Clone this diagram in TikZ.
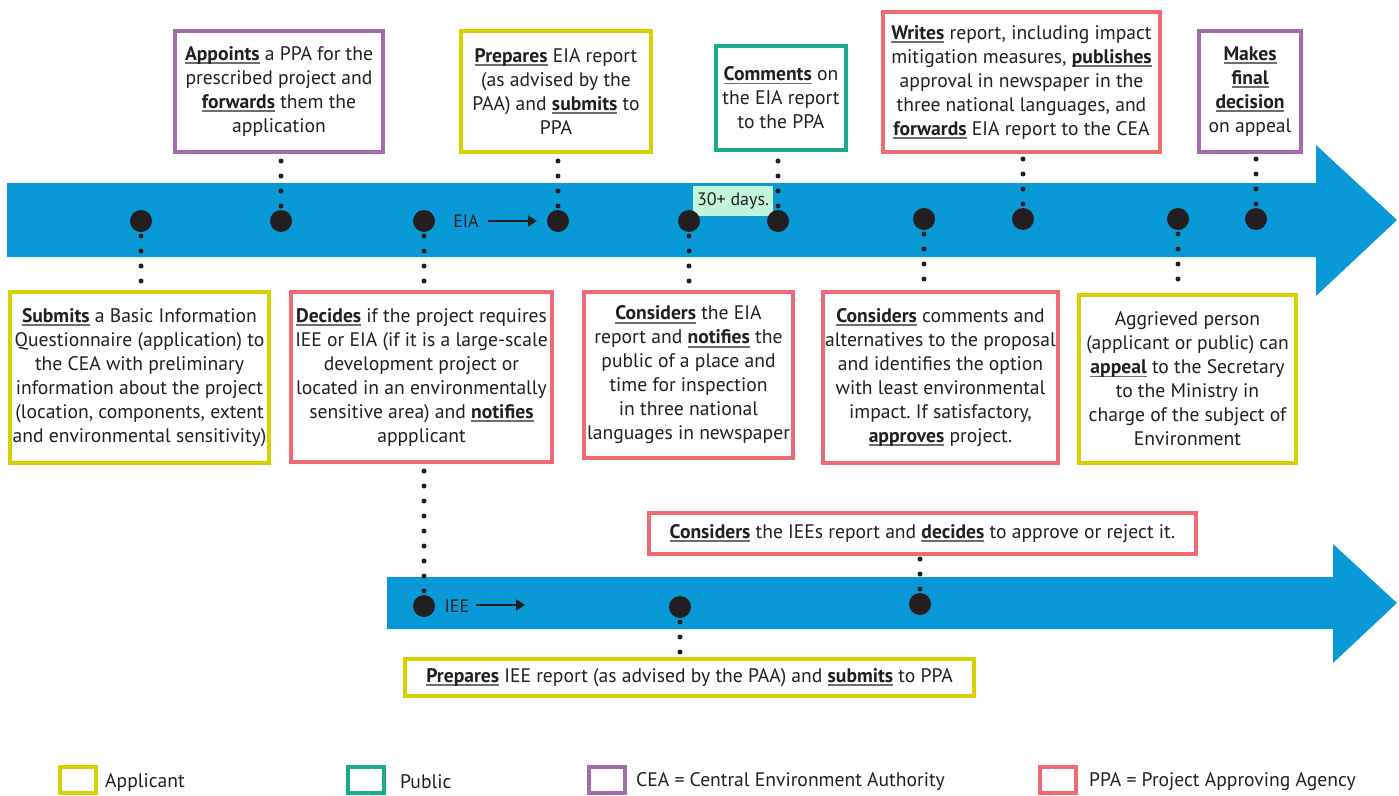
\documentclass[tikz,border=0pt]{standalone}
\usepackage{fontspec}
\setmainfont{PT Sans}
\usetikzlibrary{arrows.meta}
\frenchspacing
\definecolor{ink}{HTML}{231F20}
\definecolor{ulg}{HTML}{6D6E71}
\definecolor{yel}{HTML}{D9D000}
\definecolor{grn}{HTML}{1AAB8A}
\definecolor{pur}{HTML}{A569AD}
\definecolor{red}{HTML}{F06A73}
\definecolor{blu}{HTML}{0899D6}
\definecolor{mint}{HTML}{C1F5D9}
\newcommand\kw[1]{{\setbox0\hbox{\bfseries #1}\rlap{\textcolor{ulg}{\rule[-3.6pt]{\wd0}{1.7pt}}}\box0}}
\newcommand\fs{\fontsize{19.6}{24}\selectfont}
\tikzset{
  box/.style={draw, line width=4pt, fill=white, inner sep=0pt, align=center, font=\fs, text=ink},
  dotnode/.style={circle, fill=ink, inner sep=0pt, minimum size=22pt},
  dotline/.style={draw=ink, line width=5pt, line cap=round, dash pattern=on 0pt off 15pt},
  legbox/.style={draw, line width=4pt, inner sep=0pt, minimum width=36pt, minimum height=26pt},
  legtext/.style={anchor=west, font=\fs, text=ink, inner sep=0pt},
  lbl/.style={font=\fontsize{18}{22}\selectfont, text=ink, inner sep=0pt}
}
\begin{document}
\begin{tikzpicture}[x=1pt, y=-1pt]
\useasboundingbox (0,0) rectangle (1399,795);
% arrows
\fill[blu] (7,183) -- (1316,183) -- (1316,145) -- (1397,220) -- (1316,296) -- (1316,257) -- (7,257) -- cycle;
\fill[blu] (387,577) -- (1333,577) -- (1333,544) -- (1397,603) -- (1333,663) -- (1333,629) -- (387,629) -- cycle;
% 30+ days
\node[fill=mint, minimum width=80pt, minimum height=30pt, inner sep=0pt, font=\fontsize{18}{22}\selectfont, text=ink] (days) at (733,201) {30+ days.};
% top boxes
\node[box, draw=pur, minimum width=208pt, minimum height=121pt] (A1) at (279,91.5)
 {\kw{Appoints} a PPA for the\\ prescribed project and\\ \kw{forwards} them the\\ application};
\node[box, draw=yel, minimum width=190pt, minimum height=121pt] (A2) at (556,91.5)
 {\kw{Prepares} EIA report\\ (as advised by the\\ PAA) and \kw{submits} to\\ PPA};
\node[box, draw=grn, minimum width=130pt, minimum height=104pt] (A3) at (781,98)
 {\kw{Comments} on\\ the EIA report\\ to the PPA};
\node[box, draw=red, minimum width=277pt, minimum height=140pt] (A4) at (1021.5,82)
 {\kw{Writes} report, including impact\\ mitigation measures, \kw{publishes}\\ approval in newspaper in the\\ three national languages, and\\ \kw{forwards} EIA report to the CEA};
\node[box, draw=pur, minimum width=102pt, minimum height=121pt] (A5) at (1250,91.5)
 {\kw{Makes}\\ \kw{final}\\ \kw{decision}\\ on appeal};
% bottom boxes
\node[box, draw=yel, minimum width=259pt, minimum height=171pt] (B1) at (139.5,377.5)
 {\kw{Submits} a Basic Information\\ Questionnaire (application) to\\ the CEA with preliminary\\ information about the project\\ (location, components, extent\\ and environmental sensitivity)};
\node[box, draw=red, minimum width=261pt, minimum height=170pt] (B2) at (421.5,377)
 {\kw{Decides} if the project requires\\ IEE or EIA (if it is a large-scale\\ development project or\\ located in an environmentally\\ sensitive area) and \kw{notifies}\\ appplicant};
\node[box, draw=red, minimum width=209pt, minimum height=166pt] (B3) at (688.5,375)
 {\kw{Considers} the EIA\\ report and \kw{notifies} the\\ public of a place and\\ time for inspection\\ in three national\\ languages in newspaper};
\node[box, draw=red, minimum width=235pt, minimum height=171pt] (B4) at (940.5,377.5)
 {\kw{Considers} comments and\\ alternatives to the proposal\\ and identifies the option\\ with least environmental\\ impact. If satisfactory,\\ \kw{approves} project.};
\node[box, draw=yel, minimum width=217pt, minimum height=168pt] (B5) at (1187.5,379)
 {Aggrieved person\\ (applicant or public) can\\ \kw{appeal} to the Secretary\\ to the Ministry in\\ charge of the subject of\\ Environment};
\node[box, draw=red, minimum width=547pt, minimum height=41pt] (C1) at (922.5,533.5)
 {\kw{Considers} the IEEs report and \kw{decides} to approve or reject it.};
\node[box, draw=yel, minimum width=569pt, minimum height=37pt] (C2) at (689.5,677.5)
 {\kw{Prepares} IEE report (as advised by the PAA) and \kw{submits} to PPA};
% dot coordinates
\coordinate (d1) at (141,221);
\coordinate (d2) at (281,221);
\coordinate (d3) at (424,221);
\coordinate (d4) at (558,221);
\coordinate (d5) at (689,221);
\coordinate (d6) at (778,221);
\coordinate (d7) at (924,219);
\coordinate (d8) at (1023,219);
\coordinate (d9) at (1178,219);
\coordinate (d10) at (1256,219);
\coordinate (e1) at (424,606);
\coordinate (e2) at (680,607);
\coordinate (e3) at (920,604);
% dotted connectors
\draw[dotline] (d2) -- (d2 |- A1.south);
\draw[dotline] (d4) -- (d4 |- A2.south);
\draw[dotline] (d6) -- (d6 |- A3.south);
\draw[dotline] (d8) -- (d8 |- A4.south);
\draw[dotline] (d10) -- (d10 |- A5.south);
\draw[dotline] (d1) -- (d1 |- B1.north);
\draw[dotline] (d3) -- (d3 |- B2.north);
\draw[dotline] (d5) -- (d5 |- B3.north);
\draw[dotline] (d7) -- (d7 |- B4.north);
\draw[dotline] (d9) -- (d9 |- B5.north);
\draw[dotline] (e1) -- (e1 |- B2.south);
\draw[dotline] (e3) -- (e3 |- C1.south);
\draw[dotline] (e2) -- (e2 |- C2.north);
% dots
\foreach \p in {d1,d2,d3,d4,d5,d6,d7,d8,d9,d10,e1,e2,e3}
  \node[dotnode] (n\p) at (\p) {};
% EIA / IEE labels
\node[lbl] (eia) at (466,221) {EIA};
\coordinate (eiaA) at (488,221);
\coordinate (eiaB) at (537,221);
\draw[ink, line width=2pt, -{Triangle[length=9pt, width=11pt]}] (eiaA) -- (eiaB);
\node[lbl] (iee) at (457,606) {IEE};
\coordinate (ieeA) at (476,605);
\coordinate (ieeB) at (525,605);
\draw[ink, line width=2pt, -{Triangle[length=9pt, width=11pt]}] (ieeA) -- (ieeB);
% legend
\node[legbox, draw=yel] (L1) at (78,779.5) {};
\node[legtext] (T1) at (105,782) {Applicant};
\node[legbox, draw=grn] (L2) at (365.5,779.5) {};
\node[legtext] (T2) at (400,782) {Public};
\node[legbox, draw=pur] (L3) at (606.5,779.5) {};
\node[legtext] (T3) at (636,782) {CEA = Central Environment Authority};
\node[legbox, draw=red] (L4) at (1057.5,779.5) {};
\node[legtext] (T4) at (1089,782) {PPA = Project Approving Agency};
\end{tikzpicture}
\end{document}
